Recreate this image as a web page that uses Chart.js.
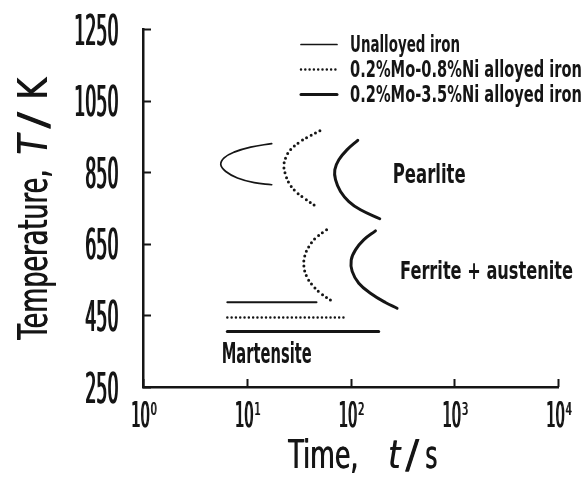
<!DOCTYPE html>
<html>
<head>
<meta charset="utf-8">
<script src="https://cdn.jsdelivr.net/npm/chart.js@4.4.1/dist/chart.umd.min.js"></script>
<style>
  html, body { margin: 0; padding: 0; background: #fff; }
  #wrap { width: 585px; height: 479px; }
</style>
</head>
<body>
<div id="wrap"><canvas id="ttt" width="585" height="479"></canvas></div>
<script>
const TIME_TICKS = [1, 10, 100, 1000, 10000];
const TEMP_TICKS = [250, 450, 650, 850, 1050, 1250];
const SERIES = ['Unalloyed iron', '0.2%Mo-0.8%Ni alloyed iron', '0.2%Mo-3.5%Ni alloyed iron'];
const REGIONS = ['Pearlite', 'Ferrite + austenite', 'Martensite'];

// transformation start curves: time in s, temperature in K
const plainPearliteTime = [17.4, 10.9, 7.55, 6.05, 5.62, 6.28, 8.13, 11.8, 17.4];
const plainPearliteTemp = [930, 920, 906, 890, 871, 852, 834, 821, 815];

const lowNiPearliteTime = [50.7, 41.2, 33.0, 26.5, 23.7, 22.8, 23.7, 25.5, 29.6, 35.6, 48.5];
const lowNiPearliteTemp = [966, 952, 936, 913, 890, 866, 843, 820, 796, 778, 751];
const lowNiFerriteTime = [58.8, 46.1, 39.7, 36.1, 35.6, 37.8, 42.8, 51.5, 69.1];
const lowNiFerriteTemp = [689, 666, 642, 614, 586, 559, 535, 512, 487];

const highNiPearliteTime = [117.5, 92.9, 77.2, 70.6, 71.7, 80.1, 96.4, 124.8, 191.4];
const highNiPearliteTemp = [939, 913, 885, 857, 829, 796, 768, 745, 720];
const highNiFerriteTime = [174, 134, 111.7, 101.6, 103.8, 120.2, 155.7, 217, 281];
const highNiFerriteTemp = [686, 661, 633, 605, 573, 540, 512, 486, 470];

// martensite start lines
const MS_TEMP = [487, 444, 405];
const MS_FROM = 6.5;
const MS_TO = [47, 87.5, 187];

const INK = '#151515';
const STYLES = [
  { borderWidth: 1.7, borderDash: [] },
  { borderWidth: 3, borderDash: [0, 5] },
  { borderWidth: 3, borderDash: [] }
];
const MS_STYLES = [
  { borderWidth: 2, borderDash: [] },
  { borderWidth: 2.5, borderDash: [0, 4.3] },
  { borderWidth: 3, borderDash: [] }
];

function curve(series, times, temps, style) {
  return {
    label: SERIES[series],
    data: times.map((t, i) => ({ x: t, y: temps[i] })),
    showLine: true,
    pointRadius: 0,
    borderColor: INK,
    borderCapStyle: 'round',
    tension: 0.4,
    fill: false,
    clip: false,
    ...style
  };
}

const datasets = [
  curve(0, plainPearliteTime, plainPearliteTemp, STYLES[0]),
  curve(1, lowNiPearliteTime, lowNiPearliteTemp, STYLES[1]),
  curve(1, lowNiFerriteTime, lowNiFerriteTemp, STYLES[1]),
  curve(2, highNiPearliteTime, highNiPearliteTemp, STYLES[2]),
  curve(2, highNiFerriteTime, highNiFerriteTemp, STYLES[2])
];
MS_TEMP.forEach((temp, i) => {
  datasets.push(curve(i, [MS_FROM, MS_TO[i]], [temp, temp], { ...MS_STYLES[i], tension: 0 }));
});

// squeezed text: the figure uses a tall, narrow gothic face.
// `heavy` widens the vertical stems by drawing the glyphs twice, heavy px apart
function squeeze(ctx, text, x, baseline, size, sx, align, weight, italic, heavy) {
  ctx.save();
  ctx.font = `${italic ? 'italic ' : ''}${weight || 'normal'} ${size}px "DejaVu Sans", sans-serif`;
  ctx.textAlign = 'left';
  ctx.textBaseline = 'alphabetic';
  const w = ctx.measureText(text).width * sx;
  const left = align === 'center' ? x - w / 2 : align === 'right' ? x - w : x;
  ctx.translate(left, baseline);
  ctx.scale(sx, 1);
  ctx.fillText(text, 0, 0);
  if (heavy) ctx.fillText(text, heavy / sx, 0);
  ctx.restore();
  return left + w;
}

function fit(ctx, text, left, baseline, size, width, weight, italic, heavy) {
  ctx.save();
  ctx.font = `${italic ? 'italic ' : ''}${weight || 'normal'} ${size}px "DejaVu Sans", sans-serif`;
  const sx = width / ctx.measureText(text).width;
  ctx.restore();
  squeeze(ctx, text, left, baseline, size, sx, 'left', weight, italic, heavy);
}

const decorations = {
  id: 'decorations',
  afterDraw(chart) {
    const { ctx, scales: { x, y } } = chart;
    const area = chart.chartArea;
    ctx.save();
    ctx.fillStyle = INK;
    ctx.strokeStyle = INK;

    // inward tick marks
    ctx.lineWidth = 2;
    TEMP_TICKS.forEach(v => {
      const py = Math.round(y.getPixelForValue(v)) + 0.5;
      ctx.beginPath();
      ctx.moveTo(area.left, py);
      ctx.lineTo(area.left + 8, py);
      ctx.stroke();
    });
    TIME_TICKS.forEach(v => {
      const px = Math.round(x.getPixelForValue(v)) + 0.5;
      ctx.beginPath();
      ctx.moveTo(px, area.bottom);
      ctx.lineTo(px, area.bottom - 8);
      ctx.stroke();
    });

    // tick labels
    TEMP_TICKS.forEach(v => {
      const py = y.getPixelForValue(v);
      squeeze(ctx, String(v), area.left - 25, py + 15.5, 42.5, 0.41, 'right', 'normal', false, 1);
    });
    TIME_TICKS.forEach(v => {
      const px = x.getPixelForValue(v);
      const end = squeeze(ctx, '10', px - 3, area.bottom + 40, 35, 0.42, 'center', 'normal', false, 1);
      squeeze(ctx, String(Math.round(Math.log10(v))), end + 1, area.bottom + 28, 18, 0.55, 'left', 'normal', false, 0.6);
    });

    // axis titles
    fit(ctx, 'Time,', 288, 468, 38.4, 70, 'normal', false, 0.8);
    fit(ctx, 't', 388, 468, 38.4, 12, 'normal', true, 0.8);
    fit(ctx, '/', 405, 468, 38.4, 14, 'normal', false, 0.5);
    fit(ctx, 's', 425, 468, 38.4, 12, 'normal', false, 0.8);

    ctx.save();
    ctx.translate(47, 340);
    ctx.rotate(-Math.PI / 2);
    fit(ctx, 'Temperature,', 0, 0, 41, 170, 'normal', false, 0.8);
    fit(ctx, 'T', 185, 0, 41, 20, 'normal', true, 0.8);
    fit(ctx, '/', 211, 0, 41, 17, 'normal', false, 0.5);
    fit(ctx, 'K', 240, 0, 41, 22, 'normal', false, 0.8);
    ctx.restore();

    // phase field labels
    fit(ctx, REGIONS[0], 392.7, 182.7, 26, 73, 'bold');
    fit(ctx, REGIONS[1], 400, 279, 24, 173, 'bold');
    fit(ctx, REGIONS[2], 221.7, 363.3, 27.5, 90, 'bold');

    // legend
    const rows = [44, 69, 94];
    const widths = [110, 232, 232];
    SERIES.forEach((name, i) => {
      ctx.save();
      ctx.lineCap = 'round';
      ctx.setLineDash(i === 1 ? [0, 4.3] : []);
      ctx.lineWidth = i === 1 ? 2.5 : STYLES[i].borderWidth;
      ctx.beginPath();
      ctx.moveTo(301, rows[i] + 0.5);
      ctx.lineTo(337, rows[i] + 0.5);
      ctx.stroke();
      ctx.restore();
      fit(ctx, name, 350, rows[i] + 8, 23.3, widths[i], 'bold');
    });
    ctx.restore();
  }
};

new Chart(document.getElementById('ttt'), {
  type: 'scatter',
  data: { datasets },
  options: {
    responsive: false,
    animation: false,
    devicePixelRatio: 1,
    layout: { padding: { left: 143, top: 29, right: 27, bottom: 92 } },
    plugins: { legend: { display: false }, tooltip: { enabled: false } },
    scales: {
      x: {
        type: 'logarithmic',
        min: 1,
        max: 10000,
        ticks: { display: false },
        grid: { display: false, drawTicks: false },
        border: { display: true, color: INK, width: 2.5 }
      },
      y: {
        type: 'linear',
        min: 250,
        max: 1250,
        ticks: { display: false },
        grid: { display: false, drawTicks: false },
        border: { display: true, color: INK, width: 2.5 }
      }
    }
  },
  plugins: [decorations]
});
</script>
</body>
</html>
